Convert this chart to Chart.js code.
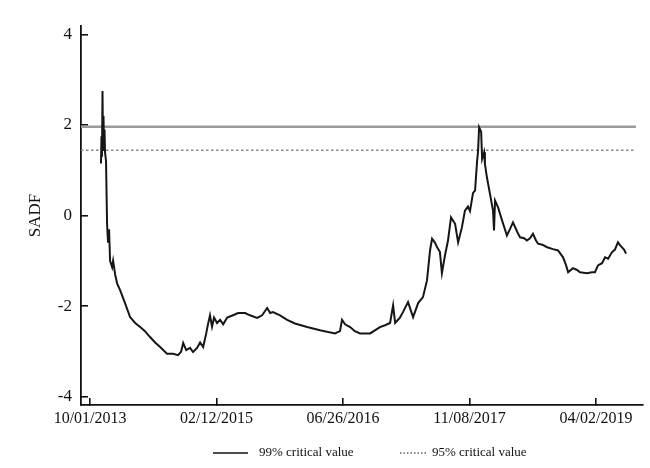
<!DOCTYPE html>
<html>
<head>
<meta charset="utf-8">
<script src="https://cdn.jsdelivr.net/npm/chart.js@4/dist/chart.umd.min.js"></script>
<style>
  html, body { margin: 0; padding: 0; background: #fff; }
  #wrap { width: 650px; height: 468px; }
</style>
</head>
<body>
<div id="wrap"><canvas id="myChart" width="650" height="468"></canvas></div>
<script>
"use strict";

// Observation index (trading-day count from 10/01/2013) and SADF statistic
const obsIndex = [
    43, 45, 47, 49, 51, 53, 55, 57, 59, 63, 67, 71, 75, 79, 87, 91, 99, 107, 119, 138,
    158, 178, 198, 217, 237, 257, 277, 304, 328, 348, 360, 368, 380, 395, 407, 423, 435, 447, 459, 466,
    474, 482, 490, 502, 514, 526, 542, 565, 585, 613, 632, 660, 680, 700, 712, 723, 751, 779, 810, 858,
    909, 968, 988, 996, 1008, 1028, 1047, 1067, 1107, 1146, 1166, 1186, 1198, 1206, 1225, 1237, 1257, 1277, 1297, 1316,
    1332, 1344, 1352, 1364, 1372, 1383, 1391, 1403, 1415, 1427, 1443, 1455, 1470, 1482, 1494, 1502, 1514, 1522, 1530, 1534,
    1538, 1546, 1550, 1558, 1561, 1569, 1581, 1593, 1597, 1601, 1613, 1629, 1640, 1648, 1660, 1672, 1688, 1700, 1716, 1727,
    1739, 1751, 1763, 1771, 1791, 1807, 1830, 1850, 1870, 1882, 1890, 1909, 1925, 1937, 1965, 1984, 1996, 2008, 2024, 2036,
    2048, 2063, 2075, 2087, 2095, 2103, 2111, 2119
];
const sadf = [
    1.15, 1.75, 1.3, 2.75, 1.6, 2.2, 1.45, 1.9, 1.4, 1.2, -0.18, -0.6, -0.3, -1.0, -1.14, -1.0, -1.3, -1.5, -1.65, -1.93,
    -2.24, -2.37, -2.46, -2.55, -2.68, -2.8, -2.9, -3.05, -3.05, -3.08, -3.0, -2.81, -2.97, -2.92, -3.01, -2.92, -2.8, -2.9, -2.6, -2.4,
    -2.2, -2.45, -2.25, -2.37, -2.3, -2.4, -2.25, -2.2, -2.15, -2.15, -2.2, -2.26, -2.2, -2.04, -2.15, -2.13, -2.2, -2.3, -2.38, -2.46,
    -2.53, -2.6, -2.55, -2.3, -2.4, -2.46, -2.55, -2.6, -2.6, -2.46, -2.42, -2.37, -1.98, -2.37, -2.25, -2.13, -1.91, -2.24, -1.93, -1.8,
    -1.43, -0.77, -0.51, -0.6, -0.7, -0.8, -1.27, -0.88, -0.55, -0.04, -0.18, -0.59, -0.26, 0.11, 0.2, 0.1, 0.5, 0.55, 1.2, 1.43,
    1.95, 1.85, 1.25, 1.4, 1.14, 0.84, 0.48, 0.11, -0.33, 0.33, 0.18, -0.11, -0.3, -0.44, -0.3, -0.15, -0.35, -0.48, -0.5, -0.55,
    -0.5, -0.4, -0.55, -0.62, -0.65, -0.7, -0.74, -0.77, -0.92, -1.1, -1.25, -1.16, -1.2, -1.25, -1.27, -1.25, -1.25, -1.1, -1.05, -0.92,
    -0.95, -0.81, -0.75, -0.59, -0.65, -0.7, -0.75, -0.84
];

// Critical values
const crit99 = 1.96;
const crit95 = 1.44;
const critSpan = [-36, 2158];

// Axis ticks
const xTickPos = [0, 500, 1000, 1500, 2000];
const xTickLabels = ['10/01/2013', '02/12/2015', '06/26/2016', '11/08/2017', '04/02/2019'];
const yTicks = [-4, -2, 0, 2, 4];

const serif = "'Liberation Serif', 'DejaVu Serif', serif";

const seriesPoints = obsIndex.map((x, i) => ({ x: x, y: sadf[i] }));

// Legend drawn underneath the axis like in the paper figure
const bottomLegend = {
    id: 'bottomLegend',
    afterDraw(chart) {
        const ctx = chart.ctx;
        const y = 453;
        ctx.save();
        ctx.strokeStyle = '#111';
        ctx.fillStyle = '#111';
        ctx.font = '13px ' + serif;
        ctx.textBaseline = 'middle';

        ctx.lineWidth = 1.5;
        ctx.beginPath();
        ctx.moveTo(213, y);
        ctx.lineTo(248, y);
        ctx.stroke();
        ctx.fillText(chart.data.datasets[1].label, 259, y);

        ctx.lineWidth = 1.2;
        ctx.setLineDash([1.5, 2]);
        ctx.beginPath();
        ctx.moveTo(400, y);
        ctx.lineTo(428, y);
        ctx.stroke();
        ctx.setLineDash([]);
        ctx.fillText(chart.data.datasets[2].label, 432, y);
        ctx.restore();
    }
};

const ctx = document.getElementById('myChart');

new Chart(ctx, {
    type: 'line',
    data: {
        datasets: [{
            label: 'SADF',
            data: seriesPoints,
            borderColor: '#161616',
            borderWidth: 2,
            pointRadius: 0,
            tension: 0
        }, {
            label: '99% critical value',
            data: critSpan.map(x => ({ x: x, y: crit99 })),
            borderColor: '#9a9a9a',
            borderWidth: 2.5,
            pointRadius: 0
        }, {
            label: '95% critical value',
            data: critSpan.map(x => ({ x: x, y: crit95 })),
            borderColor: '#8a8a8a',
            borderWidth: 1.5,
            borderDash: [2.5, 2.5],
            pointRadius: 0
        }]
    },
    options: {
        responsive: false,
        animation: false,
        layout: {
            padding: { top: 25, right: 7, left: 0, bottom: 0 }
        },
        plugins: {
            legend: { display: false },
            tooltip: { enabled: false }
        },
        scales: {
            x: {
                type: 'linear',
                min: -36,
                max: 2186,
                afterFit: scale => { scale.height = 63; },
                afterBuildTicks: scale => { scale.ticks = xTickPos.map(v => ({ value: v })); },
                border: { display: true, color: '#111', width: 1.8 },
                grid: { drawOnChartArea: false, drawTicks: true, tickLength: -7, color: '#111', lineWidth: 1.6 },
                ticks: {
                    padding: 11,
                    maxRotation: 0,
                    autoSkip: false,
                    color: '#111',
                    font: { family: serif, size: 16 },
                    callback: (value) => xTickLabels[xTickPos.indexOf(value)]
                }
            },
            y: {
                min: -4.18,
                max: 4.18,
                afterFit: scale => { scale.width = 81; },
                afterBuildTicks: scale => { scale.ticks = yTicks.map(v => ({ value: v })); },
                border: { display: true, color: '#111', width: 1.8 },
                grid: { drawOnChartArea: false, drawTicks: true, tickLength: -7, color: '#111', lineWidth: 1.6 },
                ticks: {
                    padding: 16,
                    color: '#111',
                    font: { family: serif, size: 17 }
                },
                title: {
                    display: true,
                    text: 'SADF',
                    color: '#111',
                    font: { family: serif, size: 17 },
                    padding: { top: 25, bottom: 0 }
                }
            }
        }
    },
    plugins: [bottomLegend]
});
</script>
</body>
</html>
